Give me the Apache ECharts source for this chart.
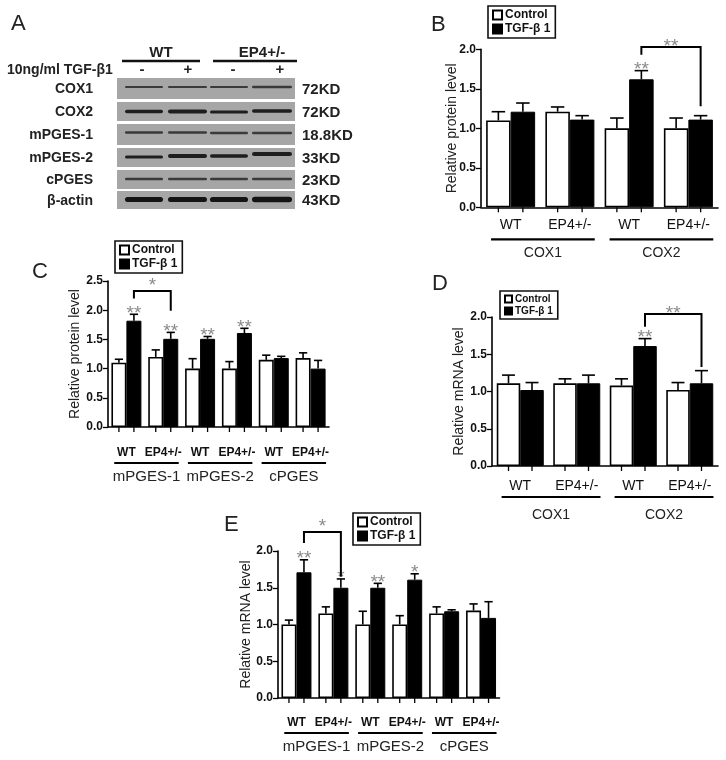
<!DOCTYPE html>
<html><head><meta charset="utf-8">
<script src="https://cdn.jsdelivr.net/npm/echarts@6/dist/echarts.min.js"></script>
<style>html,body{margin:0;padding:0;background:#fff}#c{width:726px;height:760px}</style>
</head><body><div id="c"></div>
<script>
// ---------------- DATA ----------------
// Panel B: COX protein level
const bTickLabels = ['WT','EP4+/-','WT','EP4+/-'];
const bGroupNames = ['COX1','COX2'];
const bControl    = [1.10,1.21,1.00,1.00];
const bControlErr = [0.11,0.06,0.13,0.13];
const bTgf        = [1.21,1.11,1.62,1.11];
const bTgfErr     = [0.11,0.05,0.11,0.05];
const bStars      = ['','','**',''];

// Panel C: PGES protein level
const cTickLabels = ['WT','EP4+/-','WT','EP4+/-','WT','EP4+/-'];
const cGroupNames = ['mPGES-1','mPGES-2','cPGES'];
const cControl    = [1.10,1.20,1.00,1.00,1.15,1.18];
const cControlErr = [0.06,0.12,0.17,0.12,0.08,0.09];
const cTgf        = [1.82,1.51,1.51,1.61,1.18,1.00];
const cTgfErr     = [0.11,0.11,0.04,0.08,0.03,0.14];
const cStars      = ['**','**','**','**','',''];

// Panel D: COX mRNA level
const dTickLabels = ['WT','EP4+/-','WT','EP4+/-'];
const dGroupNames = ['COX1','COX2'];
const dControl    = [1.11,1.11,1.08,1.02];
const dControlErr = [0.11,0.06,0.09,0.10];
const dTgf        = [1.02,1.11,1.61,1.11];
const dTgfErr     = [0.10,0.11,0.10,0.17];
const dStars      = ['','','**',''];

// Panel E: PGES mRNA level
const eTickLabels = ['WT','EP4+/-','WT','EP4+/-','WT','EP4+/-'];
const eGroupNames = ['mPGES-1','mPGES-2','cPGES'];
const eControl    = [1.00,1.15,1.00,1.00,1.15,1.19];
const eControlErr = [0.06,0.09,0.18,0.12,0.09,0.09];
const eTgf        = [1.71,1.50,1.50,1.61,1.18,1.09];
const eTgfErr     = [0.17,0.12,0.06,0.08,0.02,0.22];
const eStars      = ['**','*','**','*','',''];

// Panel A: western blot
const blotProteins = ['COX1','COX2','mPGES-1','mPGES-2','cPGES','β-actin'];
const blotSizes    = ['72KD','72KD','18.8KD','33KD','23KD','43KD'];
const blotGenotypes = ['WT','EP4+/-'];
const blotTreatment = ['-','+','-','+'];

const seriesNames = ['Control','TGF-β 1'];

// ---------------- LAYOUT ----------------
const FF = "'Liberation Sans', Arial, Helvetica, sans-serif";

const panels = [
  {letter:'B', letterPos:[431,14], left:481, width:237, top:49.3, height:158, max:2.0, bw:24.5,
   ticks:bTickLabels, groups:bGroupNames, control:bControl, controlErr:bControlErr, tgf:bTgf, tgfErr:bTgfErr, stars:bStars,
   bracket:{from:2,to:3,label:'**',top:2.03,leftEnd:1.93,rightEnd:1.28},
   tickFont:{size:14,weight:'normal'}, tickMargin:11, lineOff:32, groupOff:46, groupFont:14,
   yName:'Relative protein level', nameGap:22, legend:{left:488,top:6,font:12}},
  {letter:'C', letterPos:[32,261], left:108, width:221, top:281, height:146, max:2.5, bw:15,
   ticks:cTickLabels, groups:cGroupNames, control:cControl, controlErr:cControlErr, tgf:cTgf, tgfErr:cTgfErr, stars:cStars,
   bracket:{from:0,to:1,label:'*',top:2.33,leftEnd:2.20,rightEnd:1.99},
   tickFont:{size:12,weight:'bold'}, tickMargin:20, lineOff:36, groupOff:50, groupFont:15,
   yName:'Relative protein level', nameGap:26, legend:{left:115,top:241,font:12}},
  {letter:'D', letterPos:[432,273], left:492, width:226, top:317, height:149, max:2.0, bw:23.5,
   ticks:dTickLabels, groups:dGroupNames, control:dControl, controlErr:dControlErr, tgf:dTgf, tgfErr:dTgfErr, stars:dStars,
   bracket:{from:2,to:3,label:'**',top:2.04,leftEnd:1.87,rightEnd:1.33},
   tickFont:{size:14,weight:'normal'}, tickMargin:13, lineOff:31, groupOff:49, groupFont:14,
   yName:'Relative mRNA level', nameGap:26, legend:{left:500,top:291,font:10}},
  {letter:'E', letterPos:[224,514], left:278, width:221.5, top:551, height:147, max:2.0, bw:15,
   ticks:eTickLabels, groups:eGroupNames, control:eControl, controlErr:eControlErr, tgf:eTgf, tgfErr:eTgfErr, stars:eStars,
   bracket:{from:0,to:1,label:'*',top:2.26,leftEnd:2.11,rightEnd:1.65},
   tickFont:{size:12,weight:'bold'}, tickMargin:19, lineOff:35, groupOff:49, groupFont:15,
   yName:'Relative mRNA level', nameGap:25, legend:{left:353,top:513,font:12}}
];

const grids=[], xAxes=[], yAxes=[], series=[], legends=[], titles=[{text:'A',left:11,top:13,padding:0,textStyle:{fontSize:22,fontWeight:'normal',color:'#222',fontFamily:FF}}];

function starText(x, y, txt){
  return {type:'text',style:{x:x,y:y,text:txt,fill:'#8a8a8a',font:'19px '+FF,align:'center',verticalAlign:'middle'}};
}

function errSeries(p, idx, side){
  const vals = side===0 ? p.control : p.tgf;
  const errs = side===0 ? p.controlErr : p.tgfErr;
  return {
    type:'custom', xAxisIndex:idx, yAxisIndex:idx, z:5, silent:true, clip:false,
    encode:{x:0,y:1},
    data: vals.map((v,i)=>[i,v,errs[i]]),
    renderItem(params, api){
      const i=api.value(0), v=api.value(1), e=api.value(2);
      const bw=p.bw;
      const base=api.coord([i,v]);
      const x=base[0]+(side===0?-bw/2:bw/2);
      const yTop=api.coord([i,v+e])[1];
      const y0=api.coord([i,0])[1];
      const cap=bw*0.55;
      const ch=[
        {type:'line',shape:{x1:x,y1:base[1],x2:x,y2:yTop},style:{stroke:'#000',lineWidth:1.6}},
        {type:'line',shape:{x1:x-cap/2,y1:yTop,x2:x+cap/2,y2:yTop},style:{stroke:'#000',lineWidth:1.6}},
        {type:'line',shape:{x1:x,y1:y0,x2:x,y2:y0+5},style:{stroke:'#000',lineWidth:1.3}}
      ];
      if(side===1 && p.stars[params.dataIndex]){
        ch.push(starText(x, yTop-1, p.stars[params.dataIndex]));
      }
      return {type:'group',children:ch};
    }
  };
}

panels.forEach((p, idx)=>{
  grids.push({left:p.left, top:p.top, width:p.width, height:p.height, outerBoundsMode:'none'});
  xAxes.push({type:'category', gridIndex:idx, data:p.ticks.map((t,i)=>String(i)),
    axisLine:{lineStyle:{color:'#000',width:1.6}}, axisTick:{show:false},
    axisLabel:{formatter:(v,i)=>p.ticks[i], margin:p.tickMargin, color:'#111', fontSize:p.tickFont.size, fontWeight:p.tickFont.weight, fontFamily:FF, interval:0}});
  yAxes.push({type:'value', gridIndex:idx, min:0, max:p.max, interval:0.5,
    axisLine:{show:true,lineStyle:{color:'#000',width:1.6}}, axisTick:{show:true,length:5,lineStyle:{color:'#000',width:1.3}},
    splitLine:{show:false},
    axisLabel:{formatter:v=>v.toFixed(1), margin:5, color:'#111', fontSize:12, fontWeight:'bold', fontFamily:FF},
    name:p.yName, nameLocation:'middle', nameGap:p.nameGap, nameRotate:90, nameMoveOverlap:false,
    nameTextStyle:{fontSize:14, color:'#222', fontFamily:FF}});
  series.push({name:seriesNames[0], type:'bar', xAxisIndex:idx, yAxisIndex:idx, data:p.control, barWidth:p.bw, barGap:'0%',
    itemStyle:{color:'#fff', borderColor:'#000', borderWidth:1.6}, silent:true});
  series.push({name:seriesNames[1], type:'bar', xAxisIndex:idx, yAxisIndex:idx, data:p.tgf, barWidth:p.bw, barGap:'0%',
    itemStyle:{color:'#000', borderColor:'#000', borderWidth:1}, silent:true});
  series.push(errSeries(p, idx, 0));
  series.push(errSeries(p, idx, 1));
  // group lines & labels
  const nPer = p.ticks.length / p.groups.length;
  series.push({type:'custom', xAxisIndex:idx, yAxisIndex:idx, silent:true, clip:false, encode:{x:0,y:1},
    data:p.groups.map((g,gi)=>[gi*nPer, 0, gi*nPer+nPer-1]),
    renderItem(params, api){
      const cw=api.size([1,0])[0];
      const a=api.coord([api.value(0),0]), b=api.coord([api.value(2),0]);
      const x1=a[0]-0.33*cw, x2=b[0]+0.42*cw, y0=a[1];
      return {type:'group',children:[
        {type:'line',shape:{x1:x1,y1:y0+p.lineOff,x2:x2,y2:y0+p.lineOff},style:{stroke:'#000',lineWidth:2.2}},
        {type:'text',style:{x:(x1+x2)/2,y:y0+p.groupOff,text:p.groups[params.dataIndex],fill:'#222',font:p.groupFont+'px '+FF,align:'center',verticalAlign:'middle'}}
      ]};
    }});
  // significance bracket
  const br=p.bracket;
  series.push({type:'custom', xAxisIndex:idx, yAxisIndex:idx, silent:true, clip:false, z:6, encode:{x:0,y:1},
    data:[[br.from, br.top, br.to, br.leftEnd, br.rightEnd]],
    renderItem(params, api){
      const bw=p.bw;
      const xl=api.coord([api.value(0),0])[0]+bw/2, xr=api.coord([api.value(2),0])[0]+bw/2;
      const yt=api.coord([0,api.value(1)])[1], yl=api.coord([0,api.value(3)])[1], yr=api.coord([0,api.value(4)])[1];
      return {type:'group',children:[
        {type:'polyline',shape:{points:[[xl,yl],[xl,yt],[xr,yt],[xr,yr]]},style:{stroke:'#000',lineWidth:2,fill:null}},
        starText((xl+xr)/2, br.label.length>1 ? yt : yt-5, br.label)
      ]};
    }});
  legends.push({left:p.legend.left, top:p.legend.top, orient:'vertical', data:seriesNames, icon:'rect',
    itemWidth:p.legend.font-3, itemHeight:p.legend.font-3, itemGap:2, padding:[3,5,3,4],
    borderColor:'#111', borderWidth:1.6, selectedMode:false,
    textStyle:{fontSize:p.legend.font, fontWeight:'bold', color:'#111', fontFamily:FF, padding:[0,0,0,-2]}});
  titles.push({text:p.letter, left:p.letterPos[0], top:p.letterPos[1], padding:0,
    textStyle:{fontSize:22, fontWeight:'normal', color:'#222', fontFamily:FF}});
});

// ---------------- PANEL A (western blot drawing) ----------------
const blotX=[117,295];
const rowY=[[78,99],[102,121],[124,145],[148,167],[170,189],[191,209]];
const laneX=[[125,163],[168,207],[210,248],[252,292]];
const bandY=[[87,87,87,87],[111.5,111.5,112,111],[132.5,132.5,133,133],[157,156,156,154],[179,179,179,179],[199.5,199.5,199.5,199.5]];
const bandH=[[2.2,2.2,2.2,2.6],[3.5,4.2,3,3.6],[2.4,2.6,2.4,2.4],[3.2,4,3.6,4.2],[2.4,2.4,2.4,2.4],[5,5,5.2,5.6]];
const bandC=['#3a3a3a','#1e1e1e','#3a3a3a','#1e1e1e','#3a3a3a','#141414'];
const graphic=[];
rowY.forEach((r,ri)=>{
  graphic.push({type:'rect',shape:{x:blotX[0],y:r[0],width:blotX[1]-blotX[0],height:r[1]-r[0]},style:{fill:'#a6a6a6'},silent:true});
  laneX.forEach((l,li)=>{
    const h=bandH[ri][li];
    graphic.push({type:'rect',shape:{x:l[0],y:bandY[ri][li]-h/2,width:l[1]-l[0],height:h,r:h/2},style:{fill:bandC[ri]},silent:true});
  });
  const cy=(r[0]+r[1])/2+1;
  graphic.push({type:'text',x:93,y:cy,style:{text:blotProteins[ri],fill:'#222',font:'bold 14px '+FF,align:'right',verticalAlign:'middle'},silent:true});
  graphic.push({type:'text',x:302,y:cy,style:{text:blotSizes[ri],fill:'#222',font:'bold 15px '+FF,align:'left',verticalAlign:'middle'},silent:true});
});
graphic.push({type:'text',x:161,y:53,style:{text:blotGenotypes[0],fill:'#222',font:'bold 15px '+FF,align:'center',verticalAlign:'middle'},silent:true});
graphic.push({type:'text',x:262,y:53,style:{text:blotGenotypes[1],fill:'#222',font:'bold 15px '+FF,align:'center',verticalAlign:'middle'},silent:true});
graphic.push({type:'line',shape:{x1:122,y1:61,x2:200,y2:61},style:{stroke:'#111',lineWidth:2.5},silent:true});
graphic.push({type:'line',shape:{x1:213,y1:61,x2:297,y2:61},style:{stroke:'#111',lineWidth:2.5},silent:true});
graphic.push({type:'text',x:7,y:70,style:{text:'10ng/ml TGF-β1',fill:'#222',font:'bold 14px '+FF,align:'left',verticalAlign:'middle'},silent:true});
[142,188,233,280].forEach((x,i)=>{
  graphic.push({type:'text',x:x,y:70,style:{text:blotTreatment[i],fill:'#222',font:'bold 15px '+FF,align:'center',verticalAlign:'middle'},silent:true});
});

const chart=echarts.init(document.getElementById('c'),null,{renderer:'canvas'});
chart.setOption({
  backgroundColor:'#fff', animation:false,
  title:titles, legend:legends, grid:grids, xAxis:xAxes, yAxis:yAxes, series:series, graphic:graphic
});
</script></body></html>
